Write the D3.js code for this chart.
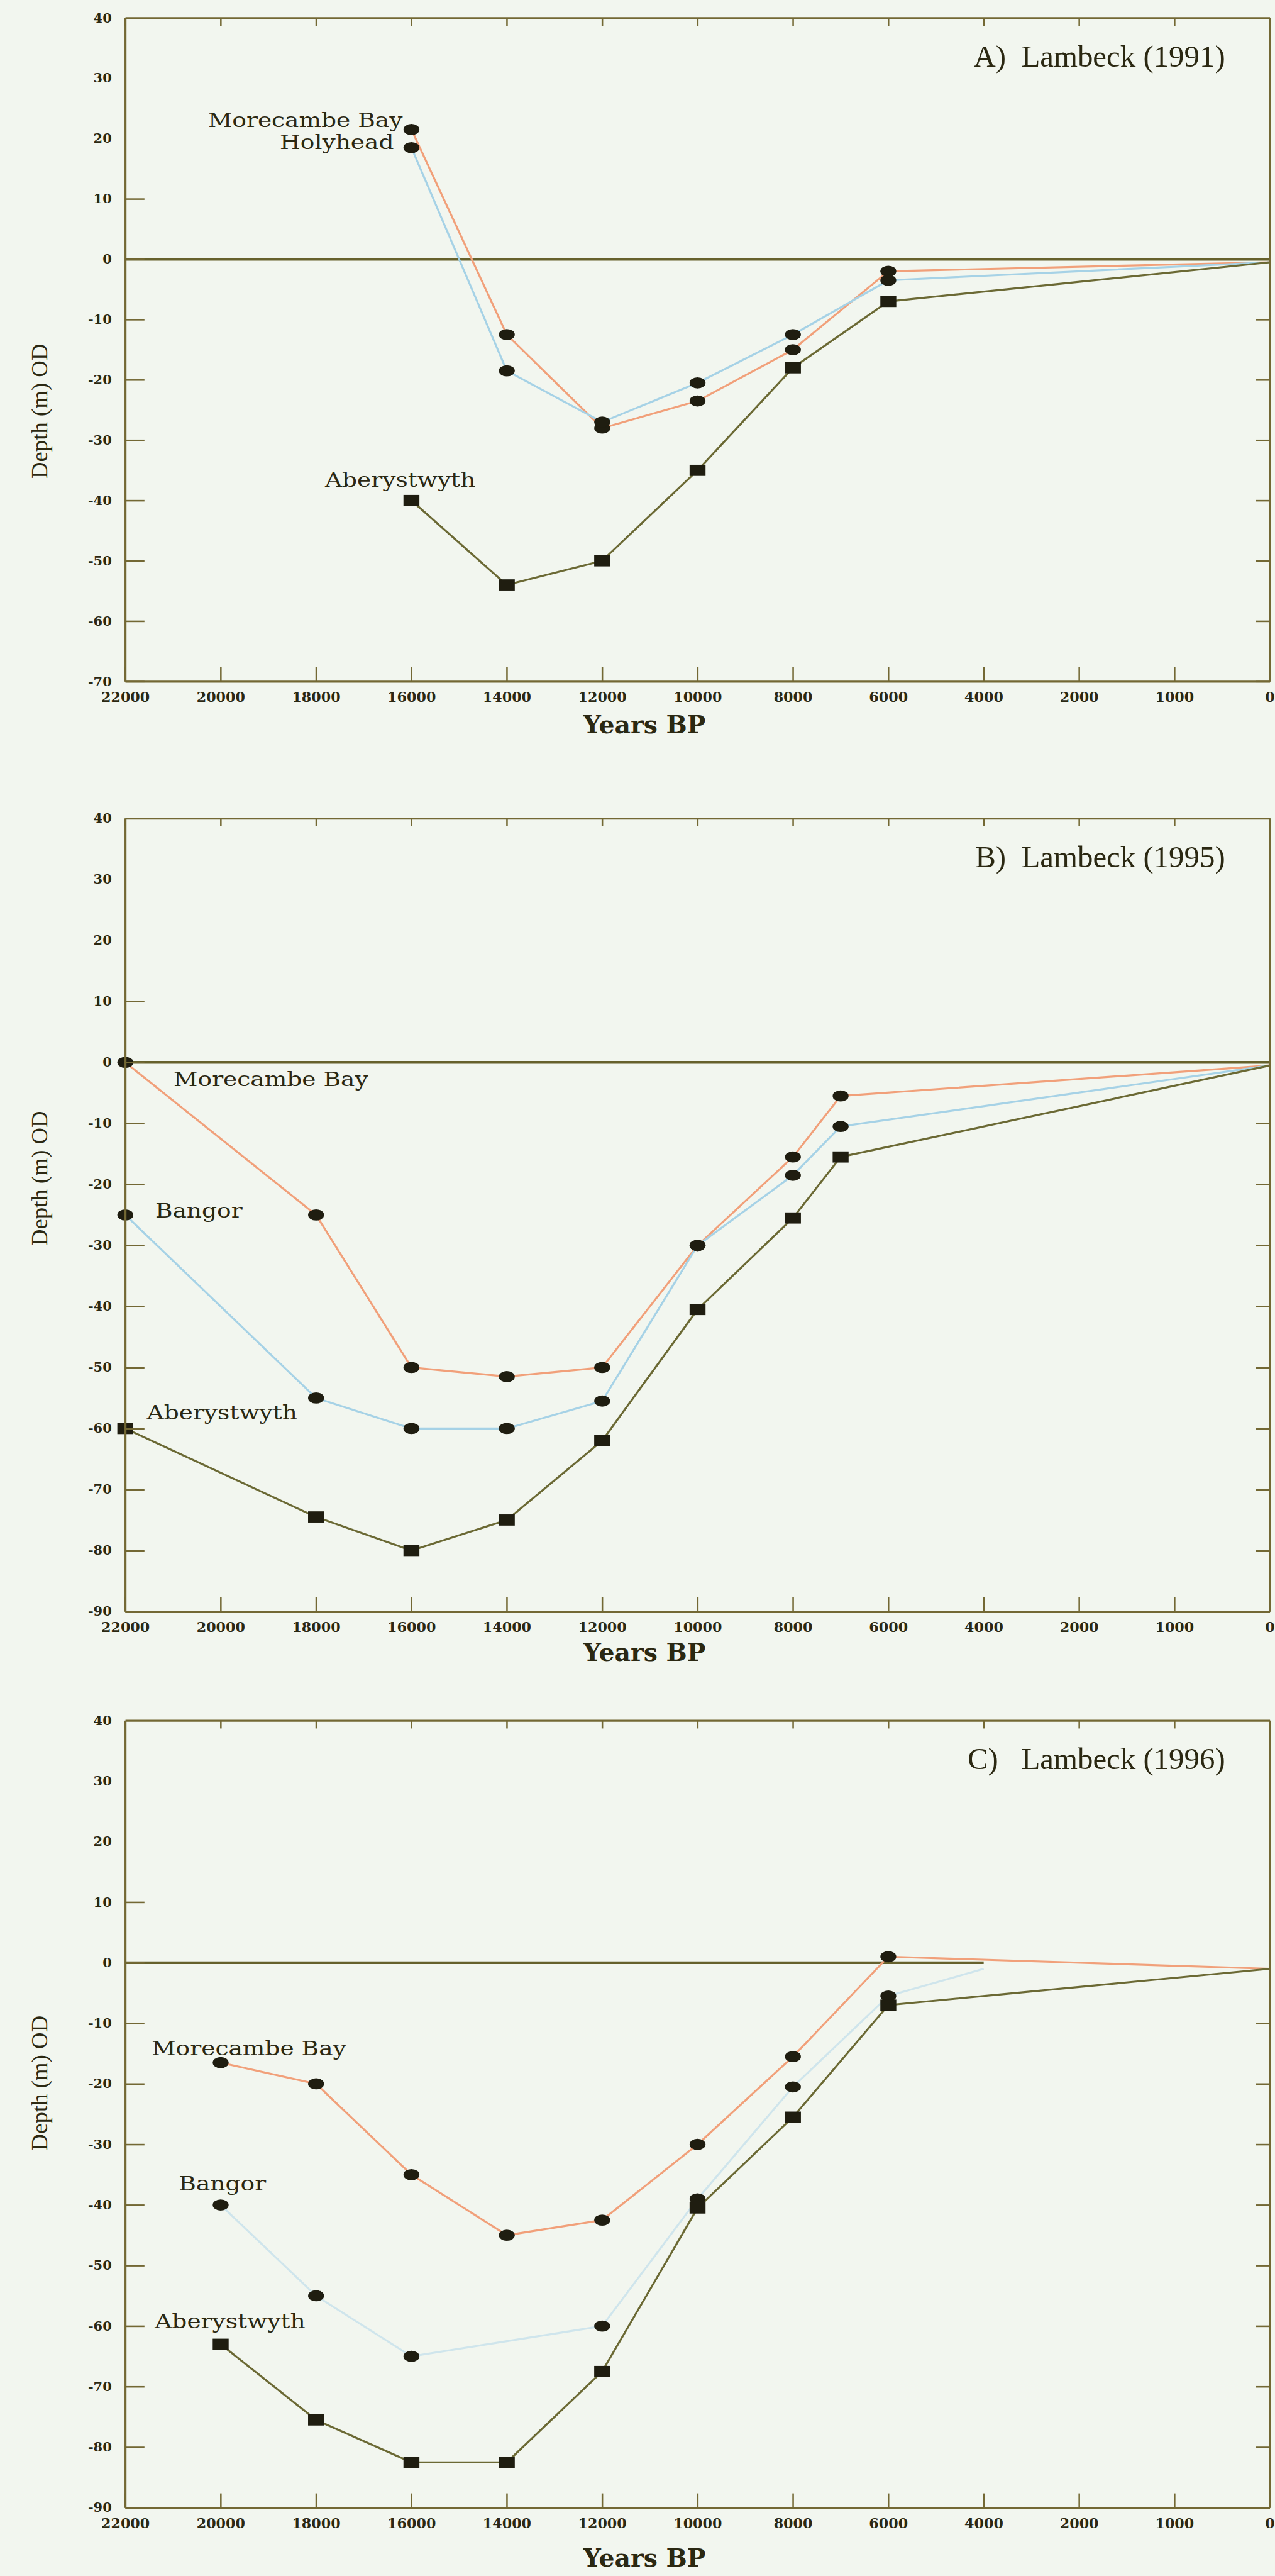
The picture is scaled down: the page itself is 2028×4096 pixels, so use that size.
<!DOCTYPE html>
<html>
<head>
<meta charset="utf-8">
<script src="https://cdnjs.cloudflare.com/ajax/libs/d3/7.8.5/d3.min.js"></script>
<style>
  html, body { margin: 0; padding: 0; background: #f2f6ef; }
  svg { display: block; }
</style>
</head>
<body>
<script>
// Time axis tick labels (evenly spaced in the original figure)
const xTickLabels = [22000, 20000, 18000, 16000, 14000, 12000, 10000, 8000, 6000, 4000, 2000, 1000, 0];

// A) Lambeck (1991)
const yearsA = [16000, 14000, 12000, 10000, 8000, 6000, 0];
const morecambeA = [21.5, -12.5, -28, -23.5, -15, -2, -0.5];
const holyheadA = [18.5, -18.5, -27, -20.5, -12.5, -3.5, -0.5];
const aberystwythA = [-40, -54, -50, -35, -18, -7, -0.5];

// B) Lambeck (1995)
const yearsB = [22000, 18000, 16000, 14000, 12000, 10000, 8000, 7000, 0];
const morecambeB = [0, -25, -50, -51.5, -50, -30, -15.5, -5.5, -0.5];
const bangorB = [-25, -55, -60, -60, -55.5, -30, -18.5, -10.5, -0.5];
const aberystwythB = [-60, -74.5, -80, -75, -62, -40.5, -25.5, -15.5, -0.5];

// C) Lambeck (1996)
const yearsC = [20000, 18000, 16000, 14000, 12000, 10000, 8000, 6000, 0];
const morecambeC = [-16.5, -20, -35, -45, -42.5, -30, -15.5, 1, -1];
const aberystwythC = [-63, -75.5, -82.5, -82.5, -67.5, -40.5, -25.5, -7, -1];
const bangorYearsC = [20000, 18000, 16000, 12000, 10000, 8000, 6000, 4000];
const bangorC = [-40, -55, -65, -60, -39, -20.5, -5.5, -1];

const yDomains = [[-70, 40], [-90, 40], [-90, 40]];
const seaLevelEnd = [0, 0, 4000];
const titles = ["A)  Lambeck (1991)", "B)  Lambeck (1995)", "C)   Lambeck (1996)"];

// colours
const orange = "#f1a07a", blue = "#a6d2e6", paleBlue = "#cfe5ec", olive = "#6b6934";
const frameColor = "#736834", ink = "#2b2812", markColor = "#1f1d10";

// panels built from the arrays above
const panels = [
  { yDomain: yDomains[0], seaEnd: seaLevelEnd[0], title: titles[0], series: [
    { name: "Morecambe Bay", years: yearsA, values: morecambeA, color: orange, shape: "circle" },
    { name: "Holyhead", years: yearsA, values: holyheadA, color: blue, shape: "circle" },
    { name: "Aberystwyth", years: yearsA, values: aberystwythA, color: olive, shape: "square" } ] },
  { yDomain: yDomains[1], seaEnd: seaLevelEnd[1], title: titles[1], series: [
    { name: "Morecambe Bay", years: yearsB, values: morecambeB, color: orange, shape: "circle" },
    { name: "Bangor", years: yearsB, values: bangorB, color: blue, shape: "circle" },
    { name: "Aberystwyth", years: yearsB, values: aberystwythB, color: olive, shape: "square" } ] },
  { yDomain: yDomains[2], seaEnd: seaLevelEnd[2], title: titles[2], series: [
    { name: "Morecambe Bay", years: yearsC, values: morecambeC, color: orange, shape: "circle" },
    { name: "Bangor", years: bangorYearsC, values: bangorC, color: paleBlue, shape: "circle" },
    { name: "Aberystwyth", years: yearsC, values: aberystwythC, color: olive, shape: "square" } ] }
];

// layout, in reference pixels (the viewBox scales it to the window)
const W = 3195, H = 6453;
const left = 314, right = 3182;
const boxes = [
  { top: 45, bottom: 1707, yTitle: 1030, xTitle: 1837 },
  { top: 2050, bottom: 4037, yTitle: 2952, xTitle: 4160 },
  { top: 4310, bottom: 6282, yTitle: 5218, xTitle: 6430 }
];
// station label offsets from the first marker of each series
const labelLayout = [
  [{ anchor: "end", dx: -22, dy: -7 }, { anchor: "end", dx: -44, dy: 4 }, { anchor: "middle", dx: -28, dy: -34 }],
  [{ anchor: "start", dx: 121, dy: 60 }, { anchor: "start", dx: 75, dy: 7 }, { anchor: "start", dx: 54, dy: -22 }],
  [{ anchor: "start", dx: -173, dy: -18 }, { anchor: "start", dx: -105, dy: -36 }, { anchor: "start", dx: -165, dy: -40 }]
];

const svg = d3.select("body")
  .append("svg")
  .attr("width", 2028)
  .attr("height", 4096)
  .attr("viewBox", `0 0 ${W} ${H}`);

svg.append("rect").attr("width", W).attr("height", H).attr("fill", "#f2f6ef");

// the ticks are evenly spaced, but the last two steps are 1000 years
const step = (right - left) / 12;
const x = d3.scaleLinear()
  .domain([22000, 2000, 1000, 0])
  .range([left, left + 10 * step, left + 11 * step, right]);

function styleAxis(g, tickWidth) {
  g.attr("font-family", null).attr("font-size", null);
  g.select(".domain").attr("stroke", frameColor).attr("stroke-width", 5);
  g.selectAll(".tick line").attr("stroke", frameColor).attr("stroke-width", tickWidth);
  g.selectAll(".tick text")
    .attr("fill", ink)
    .style("font-family", "'DejaVu Serif', serif")
    .style("font-weight", "bold");
}

panels.forEach((p, i) => {
  const box = boxes[i];
  const y = d3.scaleLinear().domain(p.yDomain).range([box.bottom, box.top]);
  const yTicks = d3.range(p.yDomain[1], p.yDomain[0] - 1, -10);
  const g = svg.append("g");

  // present sea level
  g.append("line")
    .attr("x1", x(22000)).attr("x2", x(p.seaEnd))
    .attr("y1", y(0)).attr("y2", y(0))
    .attr("stroke", "#66612c")
    .attr("stroke-width", 7);

  const line = d3.line().x(d => x(d[0])).y(d => y(d[1]));

  p.series.forEach(s => {
    const pts = s.years.map((yr, j) => [yr, s.values[j]]);
    g.append("path")
      .datum(pts)
      .attr("d", line)
      .attr("fill", "none")
      .attr("stroke", s.color)
      .attr("stroke-width", 5)
      .attr("stroke-linejoin", "round");
  });

  p.series.forEach((s, k) => {
    const pts = s.years.map((yr, j) => [yr, s.values[j]]);
    const marks = pts.slice(0, -1); // the end point carries no marker
    if (s.shape === "circle") {
      g.selectAll(null).data(marks).join("ellipse")
        .attr("cx", d => x(d[0])).attr("cy", d => y(d[1]))
        .attr("rx", 20).attr("ry", 14)
        .attr("fill", markColor);
    } else {
      g.selectAll(null).data(marks).join("rect")
        .attr("x", d => x(d[0]) - 20).attr("y", d => y(d[1]) - 14)
        .attr("width", 40).attr("height", 28)
        .attr("fill", markColor);
    }

    // wide, short station labels: smaller font stretched to the reference width
    const lab = labelLayout[i][k];
    const t = g.append("text")
      .attr("x", x(pts[0][0]) + lab.dx)
      .attr("y", y(pts[0][1]) + lab.dy)
      .attr("text-anchor", lab.anchor)
      .attr("fill", ink)
      .style("font-family", "'DejaVu Serif', serif")
      .style("font-size", "51px")
      .text(s.name);
    const len = t.node().getComputedTextLength();
    t.attr("textLength", len * 1.16).attr("lengthAdjust", "spacingAndGlyphs");
  });

  // frame with inward ticks
  g.append("g")
    .attr("transform", `translate(0,${box.top})`)
    .call(d3.axisTop(x).tickValues(xTickLabels).tickSize(-20).tickSizeOuter(0).tickFormat(""))
    .call(a => styleAxis(a, 4));

  g.append("g")
    .attr("transform", `translate(${right},0)`)
    .call(d3.axisRight(y).tickValues(yTicks.filter(d => d < 0)).tickSize(-35).tickSizeOuter(0).tickFormat(""))
    .call(a => styleAxis(a, 4));

  g.append("g")
    .attr("transform", `translate(0,${box.bottom})`)
    .call(d3.axisBottom(x).tickValues(xTickLabels).tickSize(-36).tickSizeOuter(0).tickPadding(27).tickFormat(d => d))
    .call(a => styleAxis(a, 4))
    .call(a => a.selectAll(".tick text").style("font-size", "35px"));

  g.append("g")
    .attr("transform", `translate(${left},0)`)
    .call(d3.axisLeft(y).tickValues(yTicks).tickSize(-48).tickSizeOuter(0).tickPadding(34).tickFormat(d => String(d)))
    .call(a => styleAxis(a, 4))
    .call(a => a.selectAll(".tick text").style("font-size", "33px"))
    .call(a => a.selectAll(".tick line").filter(d => d > 10).remove());

  // titles
  g.append("text")
    .attr("x", 3070)
    .attr("y", box.top + 122)
    .attr("text-anchor", "end")
    .attr("fill", ink)
    .style("font-family", "'Liberation Serif', 'Times New Roman', serif")
    .style("font-size", "77px")
    .style("white-space", "pre")
    .text(p.title);

  g.append("text")
    .attr("transform", `translate(118,${box.yTitle}) rotate(-90)`)
    .attr("text-anchor", "middle")
    .attr("fill", ink)
    .style("font-family", "'Liberation Serif', 'Times New Roman', serif")
    .style("font-size", "58px")
    .text("Depth (m) OD");

  g.append("text")
    .attr("x", 1615)
    .attr("y", box.xTitle)
    .attr("text-anchor", "middle")
    .attr("fill", ink)
    .style("font-family", "'DejaVu Serif', serif")
    .style("font-weight", "bold")
    .style("font-size", "62px")
    .text("Years BP");
});
</script>
</body>
</html>
